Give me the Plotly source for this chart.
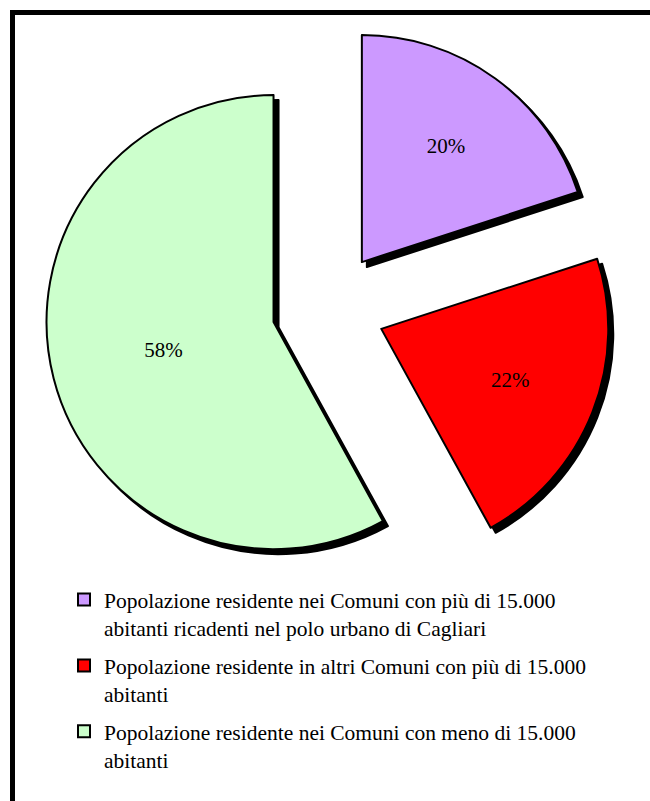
import plotly.graph_objects as go

# ---- data ----
categories = [
    "Popolazione residente nei Comuni con più di 15.000<br>abitanti ricadenti nel polo urbano di Cagliari",
    "Popolazione residente in altri Comuni con più di 15.000<br>abitanti",
    "Popolazione residente nei Comuni con meno di 15.000<br>abitanti",
]
values = [20, 22, 58]
colors = ["#CC99FF", "#FF0000", "#CCFFCC"]

W, H = 650, 801
cx, cy, half = 328.5, 308.0, 283.75   # pie box centre/half-size in px
sh = 5                                 # shadow offset px
pull = [0.25, 0.25, 0.25]

def dom(dx=0, dy=0):
    return dict(
        x=[(cx - half + dx) / W, (cx + half + dx) / W],
        y=[1 - (cy + half + dy) / H, 1 - (cy - half + dy) / H],
    )

fig = go.Figure()

# shadow
fig.add_trace(go.Pie(
    labels=categories, values=values, sort=False, direction="clockwise",
    rotation=0, pull=pull, domain=dom(sh, sh),
    marker=dict(colors=["#000000"] * 3, line=dict(color="#000000", width=2)),
    textinfo="none", hoverinfo="skip", showlegend=False,
))

# main pie
fig.add_trace(go.Pie(
    labels=categories, values=values, sort=False, direction="clockwise",
    rotation=0, pull=pull, domain=dom(),
    marker=dict(colors=colors, line=dict(color="#000000", width=2)),
    textinfo="percent", textposition="inside", insidetextorientation="horizontal",
    textfont=dict(family="Liberation Serif", size=21, color="#000000"),
    hoverinfo="skip", showlegend=False,
))

# legend entries (one per category)
for i, (lab, col) in enumerate(zip(categories, colors)):
    fig.add_trace(go.Scatter(
        x=[None], y=[None], mode="markers", name=lab, legendgroup=f"g{i}",
        marker=dict(symbol="square", size=12, color=col,
                    line=dict(color="#000000", width=2)),
        hoverinfo="skip", showlegend=True,
    ))

fig.update_layout(
    width=W, height=H,
    margin=dict(l=0, r=0, t=0, b=0),
    paper_bgcolor="white", plot_bgcolor="white",
    font=dict(family="Liberation Serif", size=21.5, color="#000000"),
    xaxis=dict(visible=False), yaxis=dict(visible=False),
    legend=dict(
        x=64 / W, xanchor="left", y=1 - 579 / H, yanchor="top",
        valign="top", font=dict(family="Liberation Serif", size=21.5, color="#000000"),
        bgcolor="rgba(0,0,0,0)", borderwidth=0,
        traceorder="grouped", tracegroupgap=7,
    ),
    shapes=[dict(
        type="rect", xref="paper", yref="paper",
        x0=12.5 / W, x1=1.2, y0=-0.2, y1=1 - 12.5 / H,
        line=dict(color="#000000", width=5), fillcolor="rgba(0,0,0,0)", layer="above",
    )],
)

fig.write_html("out.html", config={"displayModeBar": False},
               post_script="document.body.style.margin='0';")
